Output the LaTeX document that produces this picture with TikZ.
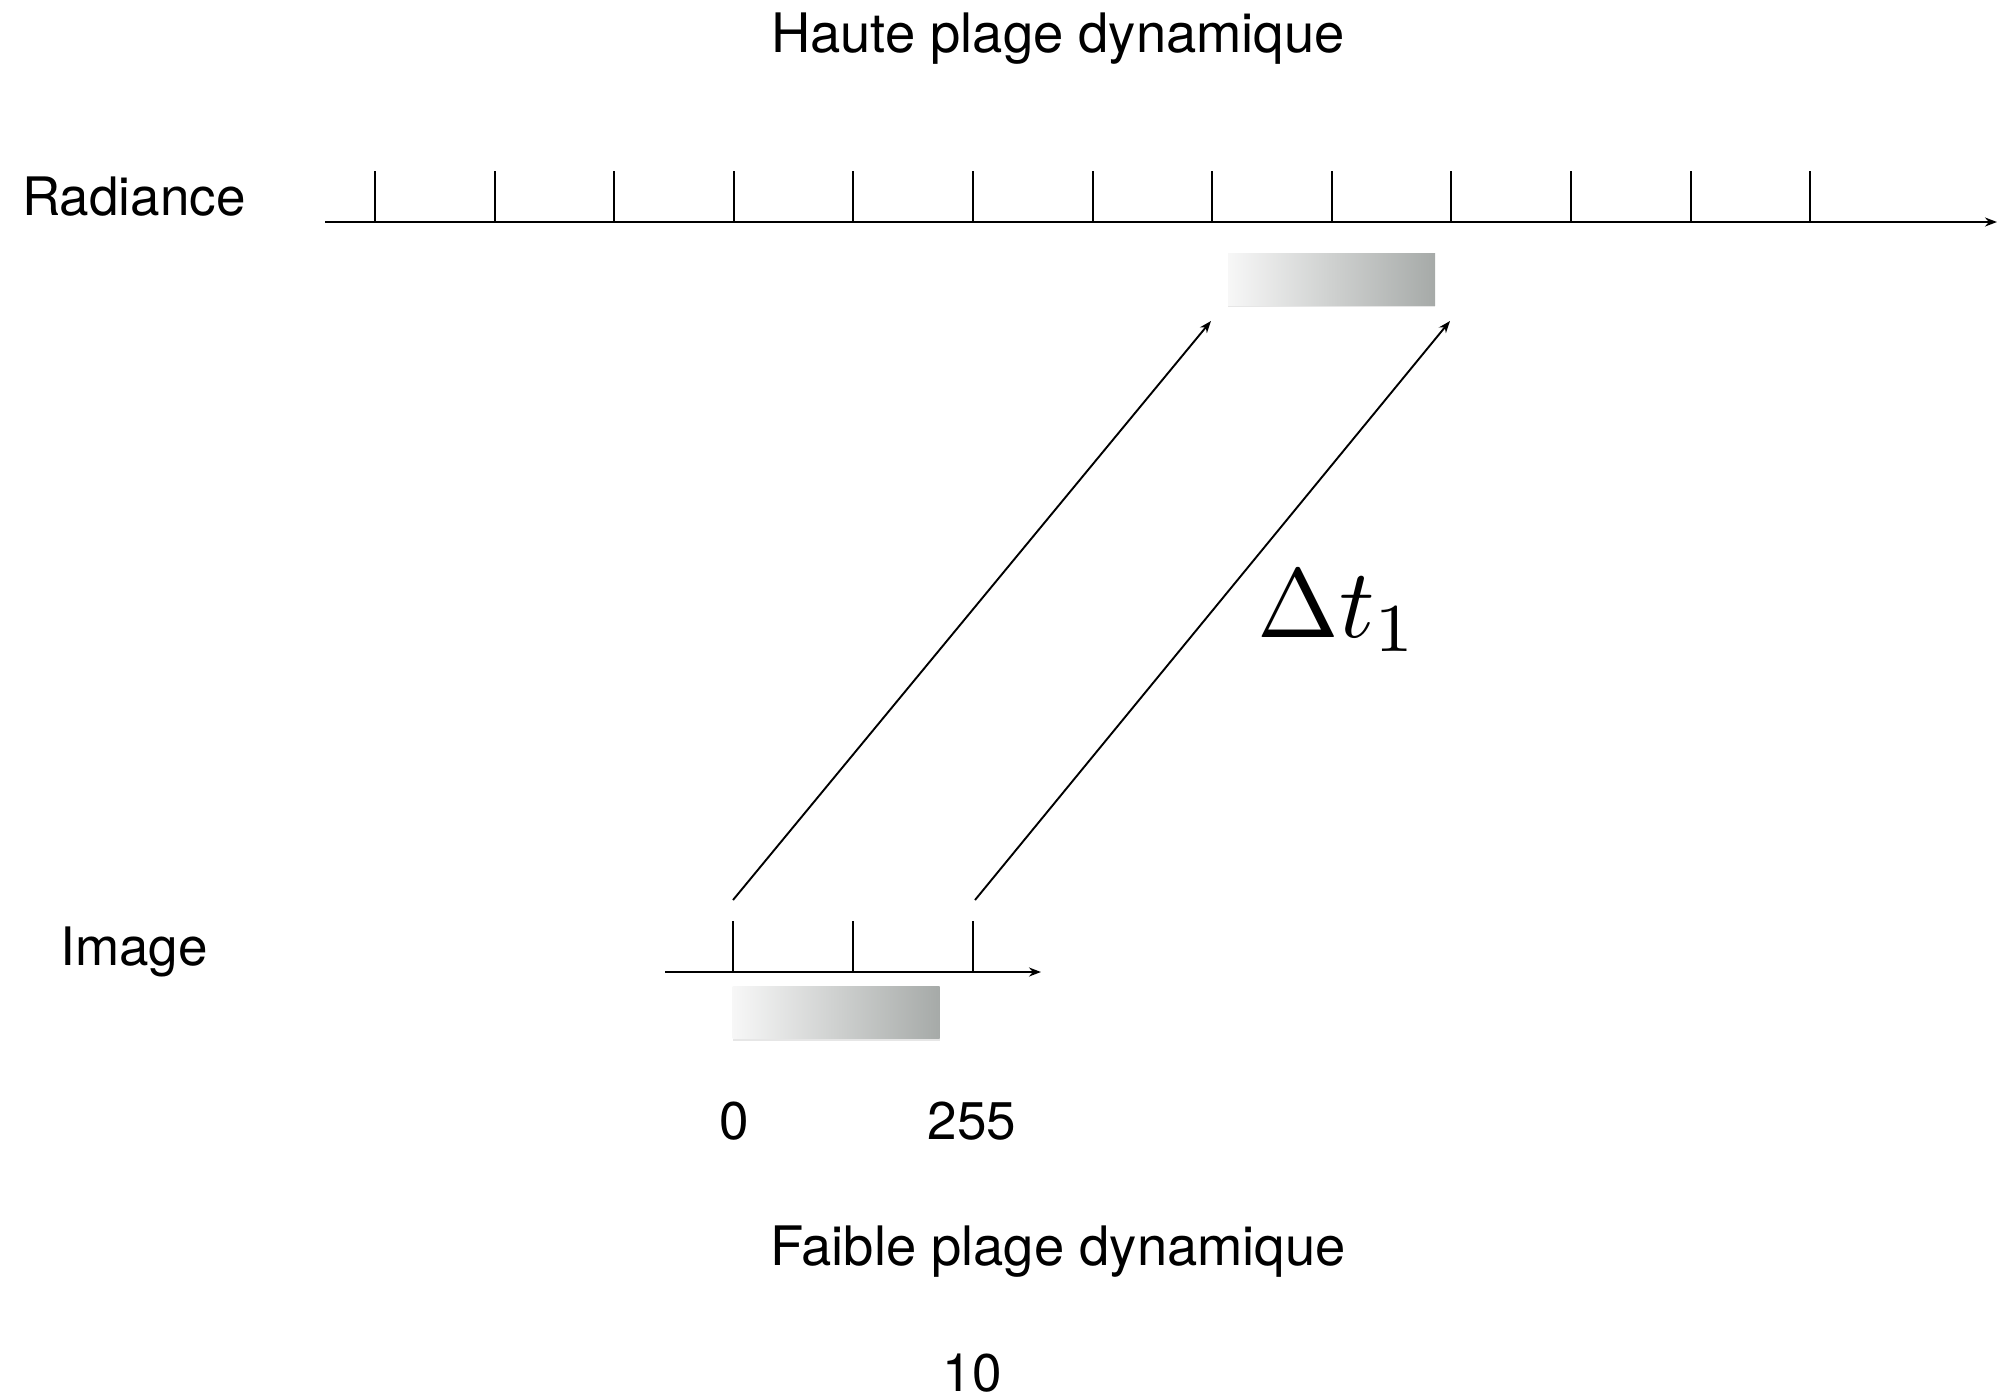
\documentclass[tikz,border=0pt]{standalone}
\usepackage{fontspec}
\setmainfont{TeX Gyre Heros}
\usepackage{tikz}
\usetikzlibrary{arrows.meta,positioning,shadows}
\definecolor{barleft}{HTML}{F7F7F7}
\definecolor{barright}{HTML}{A6AAA8}

\begin{document}
\begin{tikzpicture}[
    x=0.5pt, y=-0.5pt,
    lbl/.style={font=\fontsize{26.5}{30}\selectfont, inner sep=0pt},
    title/.style={font=\fontsize{27.2}{31}\selectfont, inner sep=0pt},
    axis/.style={-{Stealth[length=6pt,width=4.5pt]}, line width=1pt},
    tick/.style={line width=1pt},
    arr/.style={-{Stealth[length=6pt,width=4.5pt]}, line width=0.95pt},
    bar/.style={rectangle, inner sep=0pt, minimum width=103.5pt, minimum height=26pt,
                left color=barleft, right color=barright,
                drop shadow={opacity=0.2, shadow xshift=0pt, shadow yshift=-1.2pt}},
]
    \useasboundingbox (0,0) rectangle (1998,1399);

    % titles and labels
    \node[title, anchor=base] (haute) at (1058,52) {Haute plage dynamique};
    \node[lbl, anchor=base] (radiance) at (134,215) {Radiance};
    \node[lbl, anchor=base] (image) at (134,965) {Image};
    \node[lbl, anchor=base] (zero) at (734,1139) {0};
    \node[lbl, anchor=base] (max) at (972,1139) {255};
    \node[title, anchor=base] (faible) at (1058,1265) {Faible plage dynamique};
    \node[lbl, anchor=base] (page) at (972,1391) {10};

    % radiance axis
    \coordinate (rstart) at (325,222);
    \coordinate (rend) at (1997,222);
    \draw[axis] (rstart) -- (rend);
    \foreach \k in {0,...,12}
        \draw[tick] (375+119.6*\k,222) -- ++(0,-51);

    % image axis
    \coordinate (istart) at (665,972);
    \coordinate (iend) at (1041,972);
    \draw[axis] (istart) -- (iend);
    \foreach \k in {0,1,2}
        \draw[tick] (733+120*\k,972) -- ++(0,-51);

    % gradient bars
    \node[bar] (hibar) at (1331.5,279) {};
    \node[bar] (lobar) at (836,1012.5) {};

    % mapping arrows
    \coordinate (lo0) at (733,900);
    \coordinate (lo2) at (975,900);
    \coordinate (hi7) at (1211,321);
    \coordinate (hi9) at (1450,321);
    \draw[arr] (lo0) -- (hi7);
    \draw[arr] (lo2) -- (hi9);

    \node[inner sep=0pt, anchor=base west] (dt) at (1257,637) {\scalebox{4.9}{$\Delta t_1$}};
\end{tikzpicture}
\end{document}
